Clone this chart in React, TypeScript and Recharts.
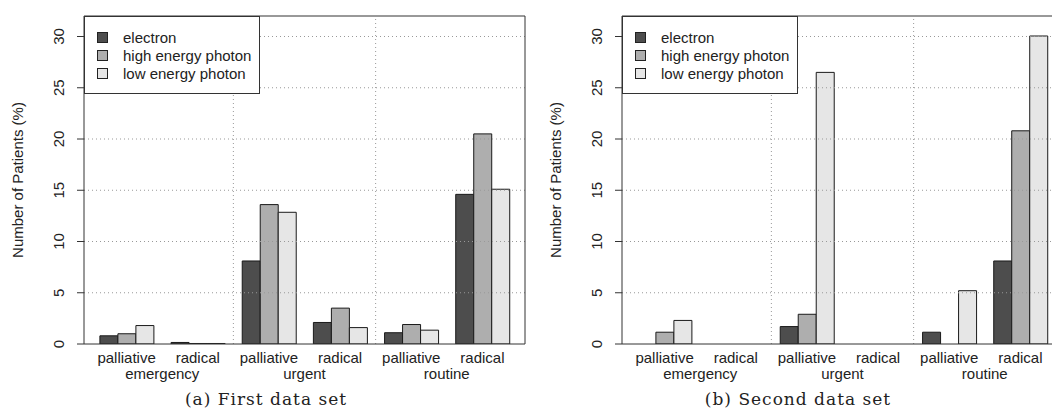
import React from "react";
import {
  Bar,
  BarChart,
  Label,
  Legend,
  ReferenceLine,
  XAxis,
  YAxis,
} from "recharts";

const categories = ["palliative", "radical", "palliative", "radical", "palliative", "radical"];
const groups = ["emergency", "urgent", "routine"];
const seriesNames = ["electron", "high energy photon", "low energy photon"];
const seriesColors = ["#4d4d4d", "#aeaeae", "#e6e6e6"];
const yTicks = [0, 5, 10, 15, 20, 25, 30];
const gridTicks = [5, 10, 15, 20, 25, 30];

// first data set (%)
const firstElectron = [0.8, 0.15, 8.1, 2.1, 1.1, 14.6];
const firstHigh = [1.0, 0.05, 13.6, 3.5, 1.9, 20.5];
const firstLow = [1.8, 0.05, 12.85, 1.6, 1.35, 15.1];

// second data set (%)
const secondElectron = [0, 0, 1.7, 0, 1.15, 8.1];
const secondHigh = [1.15, 0, 2.9, 0, 0, 20.8];
const secondLow = [2.3, 0, 26.5, 0, 5.2, 30.05];

const FONT = "'Liberation Sans', Arial, Helvetica, sans-serif";
const INK = "#222";

function makeRows(a: number[], b: number[], c: number[]) {
  return categories.map((cat, i) => ({
    key: groups[Math.floor(i / 2)] + " " + cat,
    cat,
    pos: i + 0.5,
    electron: a[i],
    high: b[i],
    low: c[i],
  }));
}

const YTick = (props: any) => {
  const { x, y, payload } = props;
  const cx = x - 17;
  return (
    <text
      x={cx}
      y={y}
      transform={`rotate(-90 ${cx} ${y})`}
      textAnchor="middle"
      dominantBaseline="central"
      fontSize={15}
      fontFamily={FONT}
      fill={INK}
    >
      {payload.value}
    </text>
  );
};

const CatTick = (props: any) => {
  const { x, y, index } = props;
  return (
    <text x={x} y={y} dy="0.71em" textAnchor="middle" fontSize={15} fontFamily={FONT} fill={INK}>
      {categories[index]}
    </text>
  );
};

const GroupTick = (props: any) => {
  const { x, y, payload } = props;
  return (
    <text x={x} y={y} dy="0.71em" textAnchor="middle" fontSize={15} fontFamily={FONT} fill={INK}>
      {groups[(payload.value - 1) / 2]}
    </text>
  );
};

const LegendBox = () => (
  <div
    style={{
      border: "1px solid #333",
      background: "#fff",
      padding: "11px 8px 11px 12px",
      fontFamily: FONT,
      fontSize: 15,
      color: INK,
    }}
  >
    {seriesNames.map((name, i) => (
      <div key={name} style={{ display: "flex", alignItems: "center", height: 18 }}>
        <span
          style={{
            display: "inline-block",
            width: 9,
            height: 9,
            background: seriesColors[i],
            border: "1px solid #222",
            marginRight: 15,
          }}
        />
        <span style={{ whiteSpace: "nowrap" }}>{name}</span>
      </div>
    ))}
  </div>
);

type PanelProps = {
  rows: any[];
  left: number;
  width: number;
  plotLeft: number;
};

function Panel({ rows, left, width, plotLeft }: PanelProps) {
  const plotWidth = 441;
  return (
    <div style={{ position: "absolute", left, top: 0 }}>
      <BarChart
        width={width}
        height={417}
        data={rows}
        margin={{ top: 16, right: width - plotLeft - plotWidth, left: 0, bottom: 39 }}
        barCategoryGap="12.5%"
        barGap={0}
      >
        <XAxis
          xAxisId="cat"
          dataKey="key"
          height={16}
          padding={{ left: 7, right: 7 }}
          axisLine={{ stroke: "#333" }}
          tickLine={false}
          interval={0}
          tick={<CatTick />}
        />
        <XAxis
          xAxisId="grp"
          dataKey="pos"
          type="number"
          domain={[-0.1, 6.1]}
          ticks={[1, 3, 5]}
          height={18}
          axisLine={false}
          tickLine={false}
          interval={0}
          tick={<GroupTick />}
          allowDataOverflow
        />
        <YAxis
          width={plotLeft}
          domain={[0, 32]}
          ticks={yTicks}
          interval={0}
          tickSize={7}
          axisLine={{ stroke: "#333" }}
          tickLine={{ stroke: "#333" }}
          tick={<YTick />}
          allowDataOverflow
        >
          <Label
            content={(p: any) => {
              const vb = p.viewBox;
              const lx = vb.x + plotLeft - 67;
              const ly = vb.y + vb.height / 2;
              return (
                <text
                  x={lx}
                  y={ly}
                  transform={`rotate(-90 ${lx} ${ly})`}
                  textAnchor="middle"
                  dominantBaseline="central"
                  fontSize={15}
                  fontFamily={FONT}
                  fill={INK}
                >
                  Number of Patients (%)
                </text>
              );
            }}
          />
        </YAxis>
        <Bar xAxisId="cat" dataKey="electron" fill={seriesColors[0]} stroke="#1a1a1a" isAnimationActive={false} />
        <Bar xAxisId="cat" dataKey="high" fill={seriesColors[1]} stroke="#1a1a1a" isAnimationActive={false} />
        <Bar xAxisId="cat" dataKey="low" fill={seriesColors[2]} stroke="#1a1a1a" isAnimationActive={false} />
        {gridTicks.map((t) => (
          <ReferenceLine key={"h" + t} xAxisId="grp" y={t} stroke="#999" strokeDasharray="1 3" />
        ))}
        <ReferenceLine xAxisId="grp" x={2} stroke="#999" strokeDasharray="1 3" />
        <ReferenceLine xAxisId="grp" x={4} stroke="#999" strokeDasharray="1 3" />
        <ReferenceLine xAxisId="grp" y={32} stroke="#333" />
        <ReferenceLine xAxisId="grp" x={6.1} stroke="#333" />
        <Legend
          layout="vertical"
          align="center"
          verticalAlign="middle"
          content={<LegendBox />}
          wrapperStyle={{ left: plotLeft, top: 16, width: "auto" }}
        />
      </BarChart>
    </div>
  );
}

const Caption = ({ text, center }: { text: string; center: number }) => (
  <div
    style={{
      position: "absolute",
      left: center - 150,
      width: 300,
      top: 389,
      textAlign: "center",
      fontFamily: "'DejaVu Serif', serif",
      fontSize: 17,
      letterSpacing: 1,
      color: INK,
    }}
  >
    {text}
  </div>
);

export default function App() {
  return (
    <div
      style={{
        position: "absolute",
        left: 0,
        top: 0,
        width: 1052,
        height: 417,
        overflow: "hidden",
        background: "#fff",
      }}
    >
      <Panel rows={makeRows(firstElectron, firstHigh, firstLow)} left={0} width={530} plotLeft={84} />
      <Panel rows={makeRows(secondElectron, secondHigh, secondLow)} left={520} width={560} plotLeft={102} />
      <Caption text="(a) First data set" center={266} />
      <Caption text="(b) Second data set" center={798} />
    </div>
  );
}
